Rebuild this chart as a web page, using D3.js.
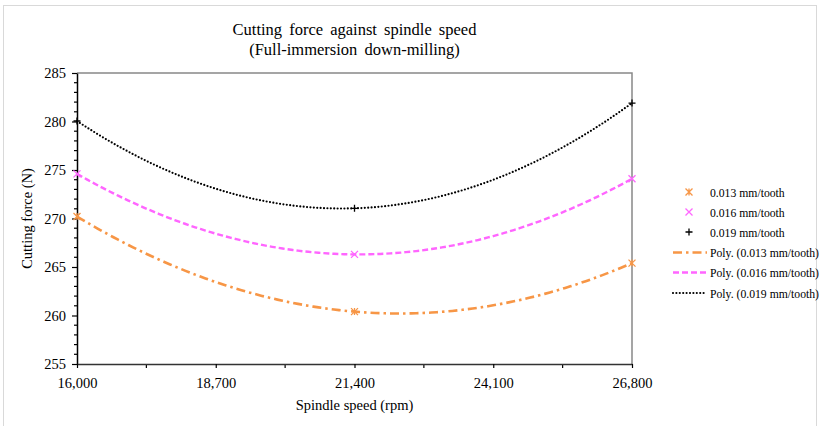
<!DOCTYPE html>
<html>
<head>
<meta charset="utf-8">
<script src="https://cdn.jsdelivr.net/npm/d3@7/dist/d3.min.js"></script>
<style>
  body { margin: 0; background: #fff; }
  svg { display: block; }
  svg text { font-family: 'Liberation Serif', 'DejaVu Serif', serif !important; }
</style>
</head>
<body>
<svg id="chart" width="825" height="426"></svg>
<script>
// data
var speeds = [16000, 21400, 26800];
var feedLabels = ['0.013 mm/tooth', '0.016 mm/tooth', '0.019 mm/tooth'];
var force013 = [270.2, 260.4, 265.4];
var force016 = [274.6, 266.3, 274.1];
var force019 = [280.05, 271.05, 281.9];
var xTicks = [16000, 18700, 21400, 24100, 26800];
var yTicks = [255, 260, 265, 270, 275, 280, 285];

var series = [
  { name: feedLabels[0], values: force013, color: '#f79646', marker: 'star', dash: '9,4,2.5,4', width: 2.6, cap: 'butt' },
  { name: feedLabels[1], values: force016, color: '#ff66ff', marker: 'x', dash: '6,3', width: 2.4, cap: 'butt' },
  { name: feedLabels[2], values: force019, color: '#000', marker: 'plus', dash: '0,3.4', width: 2.2, cap: 'round' }
];

var svg = d3.select('#chart');
var m = { left: 77, right: 632, top: 73, bottom: 364 };

// outer frame
svg.append('rect')
  .attr('x', 3.5).attr('y', 5.5)
  .attr('width', 813).attr('height', 425)
  .attr('fill', '#fff')
  .attr('stroke', '#d9d9d9');

var x = d3.scaleLinear().domain([16000, 26800]).range([m.left, m.right]);
var y = d3.scaleLinear().domain([255, 285]).range([m.bottom, m.top]);

// title
var title = svg.append('text')
  .attr('font-size', 16.5)
  .attr('word-spacing', 3)
  .attr('text-anchor', 'middle')
  .attr('fill', '#000');
title.append('tspan').attr('x', (m.left + m.right) / 2).attr('y', 35).text('Cutting force against spindle speed');
title.append('tspan').attr('x', (m.left + m.right) / 2).attr('y', 55).text('(Full-immersion down-milling)');

// plot frame (top / right)
svg.append('path')
  .attr('d', 'M' + m.left + ',' + m.top + 'H' + m.right + 'V' + m.bottom)
  .attr('fill', 'none')
  .attr('stroke', '#888')
  .attr('stroke-width', 1.5);

// y axis minor ticks
var yMinor = d3.range(255, 286, 1).filter(function (v) { return v % 5 !== 0; });
svg.append('g').selectAll('line').data(yMinor).enter().append('line')
  .attr('x1', m.left - 3).attr('x2', m.left)
  .attr('y1', function (d) { return y(d); }).attr('y2', function (d) { return y(d); })
  .attr('stroke', '#000').attr('stroke-width', 1.2);

var yAxis = svg.append('g')
  .attr('transform', 'translate(' + m.left + ',0)')
  .call(d3.axisLeft(y).tickValues(yTicks).tickSize(5).tickPadding(6).tickSizeOuter(0));
yAxis.select('.domain').attr('stroke', '#000').attr('stroke-width', 1.5);
yAxis.selectAll('.tick line').attr('stroke', '#000').attr('stroke-width', 1.2);
yAxis.selectAll('text').attr('font-size', 14.5).attr('fill', '#000');

// x axis minor ticks
var xMinor = xTicks.slice(1).map(function (v, i) { return (v + xTicks[i]) / 2; });
svg.append('g').selectAll('line').data(xMinor).enter().append('line')
  .attr('x1', function (d) { return x(d); }).attr('x2', function (d) { return x(d); })
  .attr('y1', m.bottom).attr('y2', m.bottom + 4)
  .attr('stroke', '#000').attr('stroke-width', 1.2);

var xAxis = svg.append('g')
  .attr('transform', 'translate(0,' + m.bottom + ')')
  .call(d3.axisBottom(x).tickValues(xTicks).tickFormat(d3.format(',')).tickSize(4).tickPadding(10).tickSizeOuter(0));
xAxis.select('.domain').attr('stroke', '#333').attr('stroke-width', 1.5);
xAxis.selectAll('.tick line').attr('stroke', '#000').attr('stroke-width', 1.2);
xAxis.selectAll('text').attr('font-size', 14.5).attr('fill', '#000');

// axis titles
svg.append('text')
  .attr('x', (m.left + m.right) / 2).attr('y', 410)
  .attr('text-anchor', 'middle')
  .attr('font-size', 14.5)
  .text('Spindle speed (rpm)');
svg.append('text')
  .attr('transform', 'translate(32,' + (m.top + m.bottom) / 2 + ') rotate(-90)')
  .attr('text-anchor', 'middle')
  .attr('font-size', 14.5)
  .text('Cutting force (N)');

// polynomial (order 2) trendline through the points
function poly2(xs, ys) {
  return function (t) {
    var s = 0;
    for (var i = 0; i < 3; i++) {
      var l = 1;
      for (var j = 0; j < 3; j++) {
        if (j !== i) l *= (t - xs[j]) / (xs[i] - xs[j]);
      }
      s += ys[i] * l;
    }
    return s;
  };
}

var line = d3.line()
  .x(function (d) { return x(d[0]); })
  .y(function (d) { return y(d[1]); });

series.forEach(function (s) {
  var f = poly2(speeds, s.values);
  var pts = d3.range(16000, 26800 + 1, 100).map(function (t) { return [t, f(t)]; });
  svg.append('path')
    .datum(pts)
    .attr('d', line)
    .attr('fill', 'none')
    .attr('stroke', s.color)
    .attr('stroke-width', s.width)
    .attr('stroke-dasharray', s.dash)
    .attr('stroke-linecap', s.cap);
});

// markers
function drawMarker(g, type, cx, cy, color) {
  var r = 3.5;
  var p;
  if (type === 'plus') {
    p = 'M' + (cx - r) + ',' + cy + 'H' + (cx + r) + 'M' + cx + ',' + (cy - r) + 'V' + (cy + r);
  } else if (type === 'x') {
    p = 'M' + (cx - r) + ',' + (cy - r) + 'L' + (cx + r) + ',' + (cy + r) +
        'M' + (cx - r) + ',' + (cy + r) + 'L' + (cx + r) + ',' + (cy - r);
  } else {
    // star: x with a vertical stroke
    p = 'M' + (cx - r) + ',' + (cy - r) + 'L' + (cx + r) + ',' + (cy + r) +
        'M' + (cx - r) + ',' + (cy + r) + 'L' + (cx + r) + ',' + (cy - r) +
        'M' + cx + ',' + (cy - r) + 'V' + (cy + r);
  }
  g.append('path').attr('d', p).attr('stroke', color).attr('stroke-width', 1.3).attr('fill', 'none');
}

series.forEach(function (s) {
  var g = svg.append('g');
  speeds.forEach(function (v, i) {
    drawMarker(g, s.marker, x(v), y(s.values[i]), s.color);
  });
});

// legend
var legend = svg.append('g').attr('font-size', 11.7);
var rowY = [193, 213, 233, 253.5, 273.5, 294];
series.forEach(function (s, i) {
  drawMarker(legend, s.marker, 689, rowY[i] - 1, s.color);
  legend.append('text').attr('x', 710).attr('y', rowY[i] + 3.5).text(s.name);
});
series.forEach(function (s, i) {
  var yy = rowY[i + 3] - 1;
  legend.append('line')
    .attr('x1', 673).attr('x2', 707).attr('y1', yy).attr('y2', yy)
    .attr('stroke', s.color)
    .attr('stroke-width', s.width)
    .attr('stroke-dasharray', s.dash)
    .attr('stroke-linecap', s.cap);
  legend.append('text').attr('x', 710).attr('y', rowY[i + 3] + 3.5).text('Poly. (' + s.name + ')');
});
</script>
</body>
</html>
